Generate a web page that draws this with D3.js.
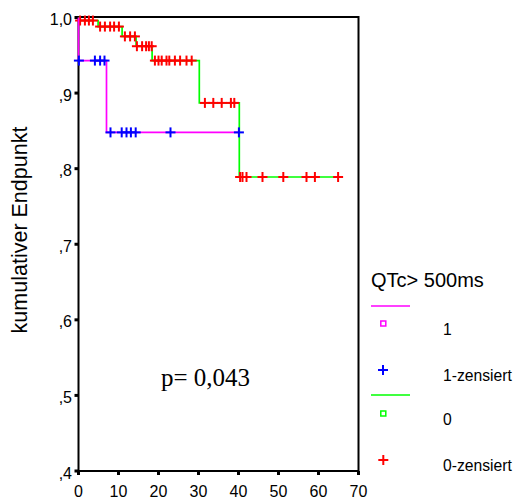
<!DOCTYPE html>
<html><head><meta charset="utf-8">
<script src="https://cdn.jsdelivr.net/npm/d3@7"></script>
<style>body{margin:0;background:#fff}svg{display:block}text{font-family:Arial,"Liberation Sans",sans-serif}text.serif{font-family:"Liberation Serif","Times New Roman",serif}</style>
</head><body>
<script>
// ---- data ----
const xTicks = [0, 10, 20, 30, 40, 50, 60, 70];
const yTicks = [0.4, 0.5, 0.6, 0.7, 0.8, 0.9, 1.0];
const yTickLabels = [",4", ",5", ",6", ",7", ",8", ",9", "1,0"];

// group "1" (QTc > 500 ms)
const events1 = [0, 7.0];
const surv1 = [0.943, 0.848];
const end1 = 40.1;
const censored1 = [0.1, 4.1, 5.4, 6.5, 8.0, 10.8, 12.0, 13.1, 14.3, 23.0, 40.1];

// group "0"
const events0 = [0.3, 4.9, 10.9, 14.4, 18.4, 30.2, 40.2];
const surv0 = [0.996, 0.988, 0.975, 0.962, 0.943, 0.887, 0.789];
const end0 = 65.0;
const censored0 = [0.4, 1.6, 2.6, 3.6, 5.4, 6.6, 7.9, 8.9, 10.1, 11.6, 12.9, 14.1,
  14.6, 15.9, 16.9, 17.6, 18.3, 19.1, 20.0, 20.8, 22.0, 22.7, 24.1, 25.4, 27.0, 28.3,
  31.6, 33.7, 35.8, 38.1, 38.95, 40.4, 41.0, 42.0, 46.0, 51.2, 57.0, 59.1, 64.9];

const legendTitle = "QTc> 500ms";
const legendLabels = ["1", "1-zensiert", "0", "0-zensiert"];
const pText = "p= 0,043";
const yLabel = "kumulativer Endpunkt";

// ---- drawing ----
const W = 516, H = 502;
const svg = d3.select("body").append("svg").attr("width", W).attr("height", H);
const x = d3.scaleLinear().domain([0, 70]).range([78.5, 358.5]);
const y = d3.scaleLinear().domain([0.4, 1.0]).range([471, 17.5]);

const col = {m: "#ff00ff", b: "#0000ff", g: "#00ff00", r: "#ff0000"};

function stepPoints(ev, sv, end) {
  const pts = [[0, 1.0]];
  ev.forEach((t, i) => pts.push([t, sv[i]]));
  pts.push([end, sv[sv.length - 1]]);
  return pts;
}
function survAt(ev, sv, t) {
  let s = 1.0;
  ev.forEach((e, i) => { if (e <= t) s = sv[i]; });
  return s;
}
const line = d3.line().x(d => x(d[0])).y(d => y(d[1])).curve(d3.curveStepAfter);

function cross(g, cx, cy, color, h) {
  g.append("line").attr("x1", cx - h).attr("x2", cx + h).attr("y1", cy).attr("y2", cy)
    .attr("stroke", color).attr("stroke-width", 2);
  g.append("line").attr("x1", cx).attr("x2", cx).attr("y1", cy - h).attr("y2", cy + h)
    .attr("stroke", color).attr("stroke-width", 2);
}

// frame
svg.append("rect").attr("x", x(0)).attr("y", y(1.0) - 0.5)
  .attr("width", x(70) - x(0)).attr("height", y(0.4) - y(1.0) + 0.5)
  .attr("fill", "none").attr("stroke", "#000").attr("stroke-width", 2);

// ticks
const gY = svg.append("g");
yTicks.forEach((v, i) => {
  gY.append("line").attr("x1", x(0) - 4).attr("x2", x(0)).attr("y1", y(v)).attr("y2", y(v))
    .attr("stroke", "#000").attr("stroke-width", 3);
  gY.append("text").attr("x", 72).attr("y", y(v) + 7.5).attr("text-anchor", "end")
    .attr("font-size", 16).text(yTickLabels[i]);
});
const gX = svg.append("g");
xTicks.forEach(v => {
  gX.append("line").attr("x1", x(v)).attr("x2", x(v)).attr("y1", y(0.4)).attr("y2", y(0.4) + 4)
    .attr("stroke", "#000").attr("stroke-width", 3);
  gX.append("text").attr("x", x(v)).attr("y", 497).attr("text-anchor", "middle")
    .attr("font-size", 16).text(v);
});

// y label
svg.append("text").attr("transform", "translate(27,230) rotate(-90)")
  .attr("text-anchor", "middle").attr("font-size", 21.5).text(yLabel);

// group 0
svg.append("path").attr("d", line(stepPoints(events0, surv0, end0)))
  .attr("fill", "none").attr("stroke", col.g).attr("stroke-width", 1.7);
const c0 = svg.append("g");
censored0.forEach(t => cross(c0, x(t), y(survAt(events0, surv0, t)), col.r, 5));

// group 1
svg.append("path").attr("d", line(stepPoints(events1, surv1, end1)))
  .attr("fill", "none").attr("stroke", col.m).attr("stroke-width", 1.7);
const c1 = svg.append("g");
censored1.forEach(t => cross(c1, x(t), y(survAt(events1, surv1, t)), col.b, 5));

// p value
svg.append("text").attr("class", "serif").attr("x", 161).attr("y", 386)
  .attr("font-size", 25).text(pText);

// legend
const lg = svg.append("g");
lg.append("text").attr("x", 371).attr("y", 287).attr("font-size", 20).text(legendTitle);
lg.append("line").attr("x1", 371).attr("x2", 410).attr("y1", 306).attr("y2", 306)
  .attr("stroke", col.m).attr("stroke-width", 1.7);
lg.append("rect").attr("x", 380.8).attr("y", 321).attr("width", 5).attr("height", 5)
  .attr("fill", "none").attr("stroke", col.m).attr("stroke-width", 1.5);
cross(lg, 383, 370, col.b, 5);
lg.append("line").attr("x1", 371).attr("x2", 410).attr("y1", 395).attr("y2", 395)
  .attr("stroke", col.g).attr("stroke-width", 1.7);
lg.append("rect").attr("x", 380.8).attr("y", 411).attr("width", 5).attr("height", 5)
  .attr("fill", "none").attr("stroke", col.g).attr("stroke-width", 1.5);
cross(lg, 383.3, 460, col.r, 5);
const baselines = [335, 381, 425, 471];
legendLabels.forEach((t, i) => {
  lg.append("text").attr("x", 443).attr("y", baselines[i]).attr("font-size", 15.7).text(t);
});
</script>
</body></html>
